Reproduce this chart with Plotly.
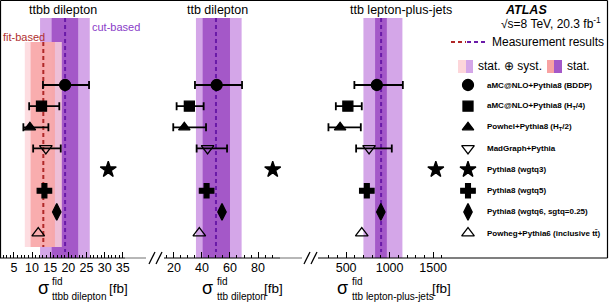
import plotly.graph_objects as go

W, H = 611, 304
def px(x): return x / W
def py(y): return 1 - y / H

FONT = "Liberation Sans, Arial, sans-serif"

# ---------------- data ----------------
models = [
    "aMC@NLO+Pythia8 (BDDP)",
    "aMC@NLO+Pythia8 (H<sub>T</sub>/4)",
    "Powhel+Pythia8 (H<sub>T</sub>/2)",
    "MadGraph+Pythia",
    "Pythia8 (wgtq3)",
    "Pythia8 (wgtq5)",
    "Pythia8 (wgtq6, sgtq=0.25)",
    "Powheg+Pythia6 (inclusive tt\u0304)",
]
symbols = ["circle", "square", "triangle-up", "triangle-down-open",
           "star", "cross", "diamond-tall", "triangle-up-open"]
sizes = [11, 10, 10, 11, 12, 12, 12, 11]
rows = list(range(len(models)))

# predictions per panel (value, minus error, plus error); errors only for first 4
ttbb_dil = [19.1, 12.6, 9.4, 13.8, 31.0, 13.4, 16.8, 11.7]
ttbb_dil_em = [6.1, 3.4, 1.8, 3.5]
ttbb_dil_ep = [6.6, 4.9, 5.1, 4.1]

ttb_dil = [50.5, 31.0, 27.4, 44.0, 90.5, 43.3, 54.3, 38.1]
ttb_dil_em = [15.5, 9.1, 7.9, 7.8]
ttb_dil_ep = [18.1, 10.2, 15.5, 13.9]

ttb_lj = [853, 520, 431, 764, 1531, 738, 899, 680]
ttb_lj_em = [258, 138, 134, 149]
ttb_lj_ep = [299, 160, 238, 261]

# measurements: central, stat lo/hi, total lo/hi
ttbb_cut = dict(c=19.1, slo=15.4, shi=22.7, tlo=12.2, thi=25.9)
ttbb_fit = dict(c=13.1, slo=9.6, shi=16.3, tlo=8.0, thi=18.2)
ttb_dil_meas = dict(c=50.0, slo=40.5, shi=60.0, tlo=35.7, thi=68.3)
ttb_lj_meas = dict(c=902, slo=833, shi=968, tlo=699, thi=1147)

# axes ticks
p1_major = [5, 10, 15, 20, 25, 30, 35]
p1_minor = list(range(2, 36))
p2_major = [20, 40, 60, 80]
p2_minor = list(range(15, 95, 5))
p3_major = [500, 1000, 1500]
p3_minor = list(range(300, 1700, 100))

# ---------------- colours ----------------
PURPLE_LIGHT = "#d4a6e8"
PURPLE_DARK = "#a458c8"
PURPLE_LINE = "#6a1aa8"
PINK_LIGHT = "#fdd6da"
PINK_DARK = "#f8a2a2"
RED_LINE = "#b02828"

fig = go.Figure()

Y_TOP_PURPLE, Y_BOT = -3.17, 8.18
Y_TOP_PINK, Y_BOT_PINK = -2.03, 7.66

shapes = []
def band(xref, m, top, bot, clight, cdark, op=1.0):
    shapes.append(dict(type="rect", xref=xref, yref="y", x0=m["tlo"], x1=m["thi"],
                       y0=top, y1=bot, fillcolor=clight, line_width=0, layer="below", opacity=op))
    shapes.append(dict(type="rect", xref=xref, yref="y", x0=m["slo"], x1=m["shi"],
                       y0=top, y1=bot, fillcolor=cdark, line_width=0, layer="below", opacity=op))

band("x", ttbb_cut, Y_TOP_PURPLE, Y_BOT, PURPLE_LIGHT, PURPLE_DARK)
band("x", ttbb_fit, Y_TOP_PINK, Y_BOT_PINK, PINK_LIGHT, PINK_DARK, op=0.82)
band("x2", ttb_dil_meas, Y_TOP_PURPLE, Y_BOT, PURPLE_LIGHT, PURPLE_DARK)
band("x3", ttb_lj_meas, Y_TOP_PURPLE, Y_BOT, PURPLE_LIGHT, PURPLE_DARK)

for xref, m, top, bot, col in [("x", ttbb_cut, Y_TOP_PURPLE, 7.9, PURPLE_LINE),
                               ("x", ttbb_fit, Y_TOP_PINK, Y_BOT_PINK, RED_LINE),
                               ("x2", ttb_dil_meas, Y_TOP_PURPLE, 7.9, PURPLE_LINE),
                               ("x3", ttb_lj_meas, Y_TOP_PURPLE, 7.9, PURPLE_LINE)]:
    shapes.append(dict(type="line", xref=xref, yref="y", x0=m["c"], x1=m["c"], y0=top, y1=bot,
                       line=dict(color=col, width=2, dash="4px,3px"), layer="below"))

# predictions
for panel, xa, vals, em, ep in [(1, "x", ttbb_dil, ttbb_dil_em, ttbb_dil_ep),
                                (2, "x2", ttb_dil, ttb_dil_em, ttb_dil_ep),
                                (3, "x3", ttb_lj, ttb_lj_em, ttb_lj_ep)]:
    for i in rows:
        tr = dict(x=[vals[i]], y=[rows[i]], xaxis=xa, yaxis="y", mode="markers",
                  marker=dict(symbol=symbols[i], size=sizes[i], color="black",
                              line=dict(color="black", width=1.3)),
                  showlegend=False, hoverinfo="skip")
        if i < len(em):
            tr["error_x"] = dict(type="data", symmetric=False, array=[ep[i]], arrayminus=[em[i]],
                                 color="black", thickness=1.8, width=4)
        fig.add_trace(go.Scatter(**tr))

# legend markers (hidden axis x4)
for i in rows:
    fig.add_trace(go.Scatter(x=[0], y=[rows[i]], xaxis="x4", yaxis="y", mode="markers",
                             marker=dict(symbol=symbols[i], size=sizes[i], color="black",
                                         line=dict(color="black", width=1.3)),
                             showlegend=False, hoverinfo="skip"))

annotations = []
for i in rows:
    annotations.append(dict(text="<b>" + models[i] + "</b>", xref="paper", yref="y",
                            x=px(485), y=rows[i], xanchor="left", yanchor="middle",
                            showarrow=False, font=dict(family=FONT, size=8, color="black")))

def txt(s, x, y, size=12, color="black", xanchor="center", yanchor="middle"):
    annotations.append(dict(text=s, xref="paper", yref="paper", x=px(x), y=py(y),
                            xanchor=xanchor, yanchor=yanchor, showarrow=False,
                            font=dict(family=FONT, size=size, color=color)))

txt("ttbb dilepton", 63, 10, size=12.5)
txt("ttb dilepton", 217, 10, size=12.5)
txt("ttb lepton-plus-jets", 401, 10, size=12.5)
txt("<b><i>ATLAS</i></b>", 526, 10, size=12.5)
txt("\u221As=8 TeV, 20.3 fb<sup>-1</sup>", 603, 23, xanchor="right")
txt("Measurement results", 490, 42, xanchor="left")
txt("stat. \u2295 syst.", 476, 66, xanchor="left")
txt("stat.", 565, 66, xanchor="left")
txt("cut-based", 90, 27, size=11, color="#8a3cc8", xanchor="left")
txt("fit-based", 1, 37, size=11, color="#b03030", xanchor="left")

# axis titles
for sx, sub, subx, fbx in [(43, "ttbb dilepton", 50, 107), (207, "ttb dilepton", 215, 262),
                           (342, "ttb lepton-plus-jets", 350, 430)]:
    txt("\u03c3", sx, 288, size=18)
    txt("fid", subx, 281, size=10, xanchor="left")
    txt(sub, subx, 296, size=10, xanchor="left")
    txt("[fb]", fbx, 288, size=13.5, xanchor="left")

# legend decorations
shapes.append(dict(type="line", xref="paper", yref="paper", x0=px(451), x1=px(466), y0=py(42), y1=py(42),
                   line=dict(color=RED_LINE, width=2, dash="4px,3px")))
shapes.append(dict(type="line", xref="paper", yref="paper", x0=px(467), x1=px(486), y0=py(42), y1=py(42),
                   line=dict(color=PURPLE_LINE, width=2, dash="4px,3px")))
for x0, x1, c in [(458, 466, PINK_LIGHT), (466, 473, PURPLE_LIGHT),
                  (547, 554, PINK_DARK), (554, 562, PURPLE_DARK)]:
    shapes.append(dict(type="rect", xref="paper", yref="paper", x0=px(x0), x1=px(x1),
                       y0=py(73), y1=py(60), fillcolor=c, line_width=0))

# frame and axis lines
def pline(x0, y0, x1, y1, color="black", width=1.2):
    shapes.append(dict(type="line", xref="paper", yref="paper", x0=px(x0), y0=py(y0),
                       x1=px(x1), y1=py(y1), line=dict(color=color, width=width)))
pline(0.5, 0.5, 607.5, 0.5)
pline(0.5, 0.5, 0.5, 258)
pline(607.5, 0.5, 607.5, 258)
pline(0, 258, 125, 258)
pline(125, 258, 146, 258, color="#888888")
pline(164, 258, 280, 258)
pline(280, 258, 302, 258, color="#888888")
pline(318, 258, 607.5, 258)
for bx in (149, 304):
    pline(bx, 264, bx + 6, 252, width=1.3)
    pline(bx + 7, 264, bx + 13, 252, width=1.3)

def xaxis(domain, rng, major, minor):
    return dict(domain=[px(domain[0]), px(domain[1])], range=rng, anchor="y",
                showgrid=False, zeroline=False, showline=False,
                tickmode="array", tickvals=major, ticktext=[str(v) for v in major],
                ticks="inside", ticklen=6, tickwidth=1, tickcolor="black",
                tickfont=dict(family=FONT, size=12.5, color="black"),
                minor=dict(tickvals=minor, ticks="inside", ticklen=3, tickwidth=1, tickcolor="black"),
                fixedrange=True)

fig.update_layout(
    width=W, height=H, margin=dict(l=0, r=0, t=0, b=0),
    paper_bgcolor="white", plot_bgcolor="rgba(0,0,0,0)",
    xaxis=xaxis((0, 146), [1.16, 41.4], p1_major, p1_minor),
    xaxis2=xaxis((164, 302), [12.9, 111.4], p2_major, p2_minor),
    xaxis3=xaxis((318, 607), [177, 3498], p3_major, p3_minor),
    xaxis4=dict(domain=[px(458), px(478)], range=[-1, 1], visible=False, anchor="y"),
    yaxis=dict(domain=[py(258), 1], range=[8.18, -4.02], visible=False, fixedrange=True),
    shapes=shapes, annotations=annotations, showlegend=False,
)

fig.write_html("out.html", config={"displayModeBar": False},
               post_script="document.body.style.margin='0';document.body.style.overflow='hidden';")
